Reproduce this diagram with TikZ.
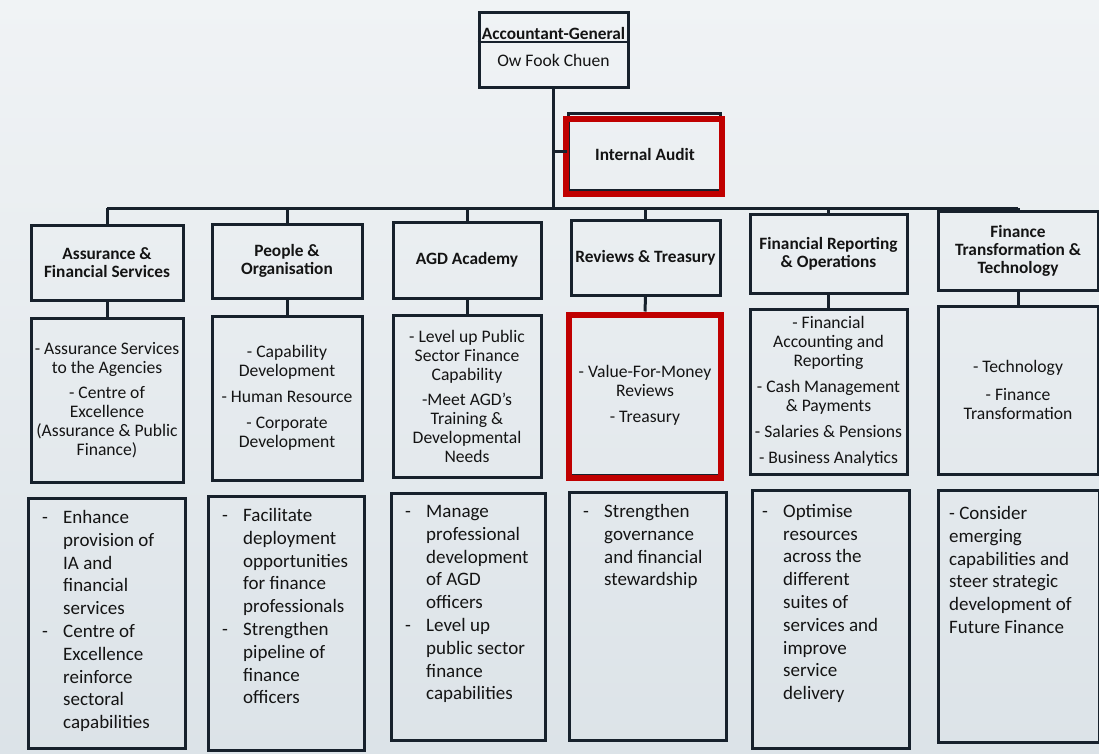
\documentclass[tikz,border=0pt]{standalone}
\usepackage{fontspec}
\setmainfont{Carlito}
\definecolor{boxline}{HTML}{17212C}
\definecolor{redline}{HTML}{C00000}
\definecolor{bgtop}{HTML}{F0F3F5}
\definecolor{bgbot}{HTML}{DCE3E8}
\definecolor{ink}{HTML}{141414}
\newcommand{\orgDash}[1]{\makebox[21pt][l]{-}#1}
\newcommand{\orgInd}[1]{\makebox[21pt][l]{}#1}
\tikzset{
  box/.style={draw=boxline, line width=3pt, inner sep=0pt, rectangle},
  hdr/.style={font=\fontsize{17.3}{18}\selectfont\bfseries, align=center, text=ink},
  desc/.style={font=\fontsize{17.6}{19}\selectfont, align=center, text=ink},
  lst/.style={font=\fontsize{19}{22.8}\selectfont, align=left, text=ink, anchor=north west, inner sep=0pt},
  conn/.style={draw=boxline, line width=3pt},
  redbox/.style={draw=redline, line width=6pt, rectangle, inner sep=0pt},
}
\begin{document}
\begin{tikzpicture}[x=1pt,y=-1pt]
\shade[top color=bgtop, bottom color=bgbot] (0,0) rectangle (1099,753);
\useasboundingbox (0,0) rectangle (1099,753);
\coordinate (bus) at (0,208);

% Accountant-General
\node[box, minimum width=149pt, minimum height=75pt] (ag) at (553.5,49.5) {};
\node[hdr, anchor=base, inner sep=0pt] (agt) at (553.5,39.5) {Accountant-General};
\node[desc, anchor=base, inner sep=0pt] (agn) at (553.5,66.5) {Ow Fook Chuen};
\draw[boxline, line width=1.6pt] (ag.west |- 0,42) -- (ag.east |- 0,42);

% Internal Audit
\node[box, minimum width=152pt, minimum height=77pt] (ia) at (644,151.5) {};
\node[redbox, minimum width=156pt, minimum height=75pt] (iared) at (644,156.5) {};
\node[hdr, inner sep=0pt] (iat) at (645,154) {Internal Audit};

% Headers
\node[box, hdr, minimum width=152pt, minimum height=75pt] (h1) at (107,262.5) {Assurance \&\\Financial Services};
\node[box, hdr, minimum width=150pt, minimum height=74pt] (h2) at (287,261) {People \&\\Organisation};
\node[box, hdr, minimum width=148pt, minimum height=76pt] (h3) at (467,260) {AGD Academy};
\node[box, hdr, minimum width=149pt, minimum height=75pt] (h4) at (645.5,257.5) {Reviews \& Treasury};
\node[box, hdr, minimum width=157pt, minimum height=79pt] (h5) at (828.5,253.5) {Financial Reporting\\\& Operations};
\node[box, hdr, minimum width=160pt, minimum height=79pt] (h6) at (1018,250.5) {Finance\\Transformation \&\\Technology};

% Bus connectors
\draw[conn] (ag.south) -- (ag.south |- bus);
\draw[conn] (ag.south |- ia.west) -- (ia.west);
\draw[conn] (h1.north |- bus) -- (h6.north |- bus);
\foreach \h in {h1,h2,h3,h4,h5,h6} {\draw[conn] (\h.north) -- (\h.north |- bus);}

% Description boxes
\node[box, desc, minimum width=152pt, minimum height=164pt] (d1) at (107,400) {- Assurance Services\\to the Agencies\\[6pt]- Centre of\\Excellence\\(Assurance \& Public\\Finance)};
\node[box, desc, minimum width=150pt, minimum height=164pt] (d2) at (287,398) {- Capability\\Development\\[7pt]- Human Resource\\[7pt]- Corporate\\Development};
\node[box, desc, minimum width=148pt, minimum height=162pt] (d3) at (467,396) {- Level up Public\\Sector Finance\\Capability\\[6pt]-Meet AGD’s\\Training \&\\Developmental\\Needs};
\node[box, desc, minimum width=150pt, minimum height=159pt] (d4) at (645,395.5) {- Value-For-Money\\Reviews\\[7pt]- Treasury};
\node[redbox, minimum width=152pt, minimum height=163pt] (d4red) at (645,396) {};
\node[box, desc, minimum width=157pt, minimum height=165pt] (d5) at (828.5,391.5) {- Financial\\Accounting and\\Reporting\\[7pt]- Cash Management\\\& Payments\\[7pt]- Salaries \& Pensions\\[7pt]- Business Analytics};
\node[box, desc, minimum width=160pt, minimum height=168pt] (d6) at (1018,390) {- Technology\\[9pt]- Finance\\Transformation};

\draw[conn] (h1.south) -- (d1.north);
\draw[conn] (h2.south) -- (d2.north);
\draw[conn] (h3.south) -- (d3.north);
\draw[conn] (h4.south) -- (d4red.north);
\draw[conn] (h5.south) -- (d5.north);
\draw[conn] (h6.south) -- (d6.north);

% Lower boxes
\node[box, minimum width=157pt, minimum height=250pt] (l1) at (106.5,623) {};
\node[box, minimum width=156pt, minimum height=254pt] (l2) at (286,623) {};
\node[box, minimum width=154pt, minimum height=247pt] (l3) at (468,616.5) {};
\node[box, minimum width=157pt, minimum height=248pt] (l4) at (647.5,616) {};
\node[box, minimum width=157pt, minimum height=258pt] (l5) at (830.5,619) {};
\node[box, minimum width=161pt, minimum height=252pt] (l6) at (1018.5,616) {};

\node[lst] (t1) at (42,510) {\orgDash{Enhance}\\\orgInd{provision of}\\\orgInd{IA and}\\\orgInd{financial}\\\orgInd{services}\\\orgDash{Centre of}\\\orgInd{Excellence}\\\orgInd{reinforce}\\\orgInd{sectoral}\\\orgInd{capabilities}};
\node[lst] (t2) at (222,508) {\orgDash{Facilitate}\\\orgInd{deployment}\\\orgInd{opportunities}\\\orgInd{for finance}\\\orgInd{professionals}\\\orgDash{Strengthen}\\\orgInd{pipeline of}\\\orgInd{finance}\\\orgInd{officers}};
\node[lst] (t3) at (405,505) {\orgDash{Manage}\\\orgInd{professional}\\\orgInd{development}\\\orgInd{of AGD}\\\orgInd{officers}\\\orgDash{Level up}\\\orgInd{public sector}\\\orgInd{finance}\\\orgInd{capabilities}};
\node[lst] (t4) at (583,504) {\orgDash{Strengthen}\\\orgInd{governance}\\\orgInd{and financial}\\\orgInd{stewardship}};
\node[lst] (t5) at (762,504) {\orgDash{Optimise}\\\orgInd{resources}\\\orgInd{across the}\\\orgInd{different}\\\orgInd{suites of}\\\orgInd{services and}\\\orgInd{improve}\\\orgInd{service}\\\orgInd{delivery}};
\node[lst] (t6) at (949,506) {- Consider\\emerging\\capabilities and\\steer strategic\\development of\\Future Finance};
\end{tikzpicture}
\end{document}
